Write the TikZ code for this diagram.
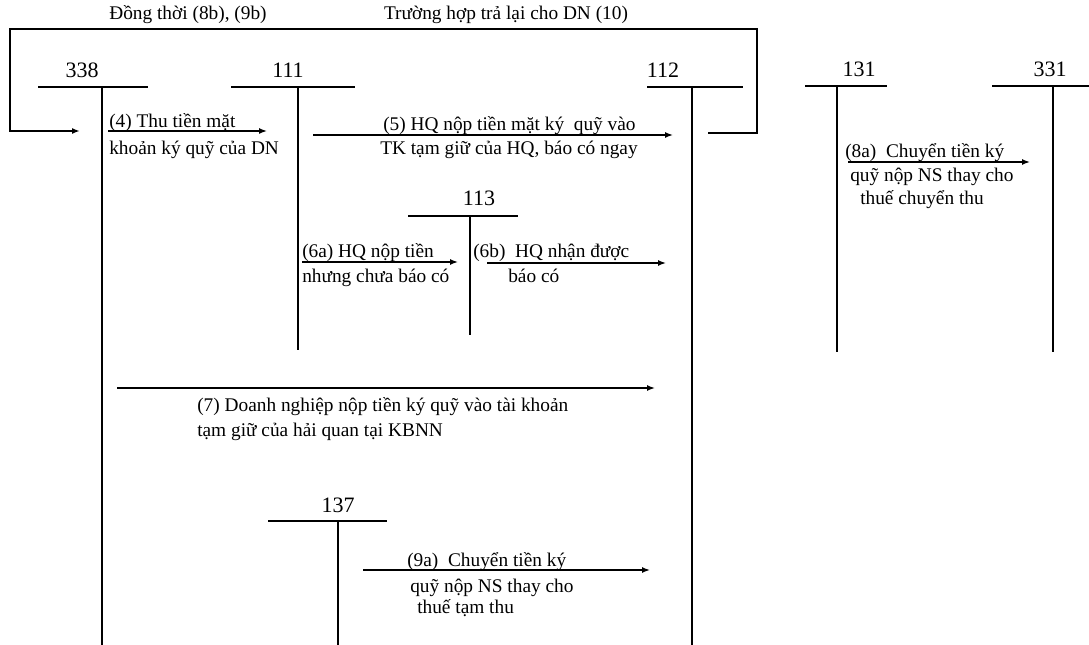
\documentclass[tikz,border=0pt]{standalone}
\usepackage{fontspec}
\setmainfont{Liberation Serif}
\usetikzlibrary{arrows.meta}
\begin{document}
\begin{tikzpicture}[x=0.75pt,y=-0.75pt,
  acct/.style={line width=1.6pt},
  flow/.style={line width=1.1pt,-{Latex[length=6pt,width=4.5pt]}},
  bracket/.style={line width=1.2pt},
  lbl/.style={anchor=base west,inner sep=0pt,font=\fontsize{14.5}{17}\selectfont},
  toplbl/.style={anchor=base,inner sep=0pt,font=\fontsize{14.5}{17}\selectfont},
  hdr/.style={anchor=base,inner sep=0pt,font=\fontsize{16.5}{19}\selectfont}]
\useasboundingbox (0,0) rectangle (1089,645);

% ---- T accounts ----
% 338
\coordinate (a338) at (102,87);
\draw[acct] (38,87) -- (148,87);
\draw[acct] (a338) -- (102,645);
\node[hdr] (h338) at (82,78) {338};
% 111
\coordinate (a111) at (298,87);
\draw[acct] (231,87) -- (355,87);
\draw[acct] (a111) -- (298,350);
\node[hdr] (h111) at (288,78) {111};
% 112
\coordinate (a112) at (692,87);
\draw[acct] (647,87) -- (743,87);
\draw[acct] (a112) -- (692,645);
\node[hdr] (h112) at (663,78) {112};
% 131
\coordinate (a131) at (837,86);
\draw[acct] (805,86) -- (887,86);
\draw[acct] (a131) -- (837,352);
\node[hdr] (h131) at (859,77) {131};
% 331
\coordinate (a331) at (1053,86);
\draw[acct] (992,86) -- (1089,86);
\draw[acct] (a331) -- (1053,352);
\node[hdr] (h331) at (1050,77) {331};
% 113
\coordinate (a113) at (470,216);
\draw[acct] (408,216) -- (518,216);
\draw[acct] (a113) -- (470,335);
\node[hdr] (h113) at (479,206) {113};
% 137
\coordinate (a137) at (338,521);
\draw[acct] (268,521) -- (387,521);
\draw[acct] (a137) -- (338,645);
\node[hdr] (h137) at (338,512) {137};

% ---- top bracket (8b),(9b),(10) ----
\coordinate (b112) at (708,133);
\coordinate (bR) at (757,133);
\coordinate (bTR) at (757,29);
\coordinate (bTL) at (10,29);
\coordinate (bL) at (10,131);
\coordinate (b338) at (80,131);
\draw[bracket,-{Latex[length=6pt,width=4.5pt]}] (b112) -- (bR) -- (bTR) -- (bTL) -- (bL) -- (b338);
\node[toplbl] (t8b) at (188,20) {Đồng thời (8b), (9b)};
\node[toplbl] (t10) at (506,20) {Trường hợp trả lại cho DN (10)};

% ---- (4) ----
\coordinate (s4) at (108,131);
\coordinate (e4) at (267,131);
\draw[flow] (s4) -- (e4);
\node[lbl] (l4a) at (109,128) {(4) Thu tiền mặt};
\node[lbl] (l4b) at (109,155) {khoản ký quỹ của DN};

% ---- (5) ----
\coordinate (s5) at (313,135);
\coordinate (e5) at (673,135);
\draw[flow] (s5) -- (e5);
\node[lbl] (l5a) at (383,131) {(5) HQ nộp tiền mặt ký\ \ quỹ vào};
\node[lbl] (l5b) at (380,155) {TK tạm giữ của HQ, báo có ngay};

% ---- (6a) ----
\coordinate (s6a) at (302,262);
\coordinate (e6a) at (458,262);
\draw[flow] (s6a) -- (e6a);
\node[lbl] (l6a1) at (302,258) {(6a) HQ nộp tiền};
\node[lbl] (l6a2) at (302,283) {nhưng chưa báo có};

% ---- (6b) ----
\coordinate (s6b) at (487,263);
\coordinate (e6b) at (666,263);
\draw[flow] (s6b) -- (e6b);
\node[lbl] (l6b1) at (473,258) {(6b)\ \ HQ nhận được};
\node[lbl] (l6b2) at (508,283) {báo có};

% ---- (7) ----
\coordinate (s7) at (117,388);
\coordinate (e7) at (655,388);
\draw[flow] (s7) -- (e7);
\node[lbl] (l7a) at (197,411) {(7) Doanh nghiệp nộp tiền ký quỹ vào tài khoản};
\node[lbl] (l7b) at (197,436) {tạm giữ của hải quan tại KBNN};

% ---- (8a) ----
\coordinate (s8a) at (848,162);
\coordinate (e8a) at (1030,162);
\draw[flow] (s8a) -- (e8a);
\node[lbl] (l8a1) at (845,158) {(8a)\ \ Chuyển tiền ký};
\node[lbl] (l8a2) at (850,182) {quỹ nộp NS thay cho};
\node[lbl] (l8a3) at (860,205) {thuế chuyển thu};

% ---- (9a) ----
\coordinate (s9a) at (363,570);
\coordinate (e9a) at (650,570);
\draw[flow] (s9a) -- (e9a);
\node[lbl] (l9a1) at (407,566) {(9a)\ \ Chuyển tiền ký};
\node[lbl] (l9a2) at (410,592) {quỹ nộp NS thay cho};
\node[lbl] (l9a3) at (417,613) {thuế tạm thu};
\end{tikzpicture}
\end{document}
